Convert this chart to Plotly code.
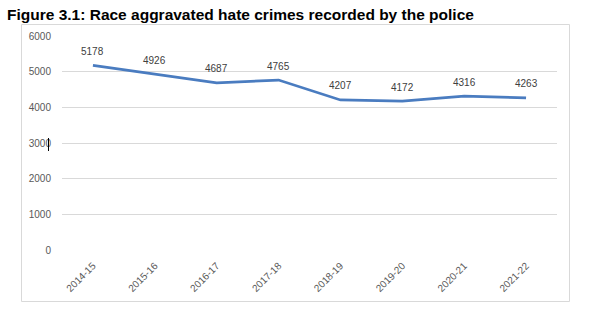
import plotly.graph_objects as go

years = ["2014-15", "2015-16", "2016-17", "2017-18", "2018-19", "2019-20", "2020-21", "2021-22"]
crimes = [5178, 4926, 4687, 4765, 4207, 4172, 4316, 4263]
y_ticks = [0, 1000, 2000, 3000, 4000, 5000, 6000]
title_text = "Figure 3.1: Race aggravated hate crimes recorded by the police"

W, H = 603, 326
L, R, T, B = 62, 46, 36, 76
pw, ph = W - L - R, H - T - B

def px(x):
    return (x - L) / pw

def py(y):
    return (H - B - y) / ph

fig = go.Figure()
fig.add_trace(go.Scatter(
    x=years, y=crimes, mode="lines",
    line=dict(color="#4A7CC0", width=2.75),
    hoverinfo="skip",
))

label_annotations = [
    dict(x=yr, y=v, xref="x", yref="y", text=str(v), showarrow=False,
         yshift=14, xanchor="center", yanchor="middle",
         font=dict(family="Liberation Sans, Arial", size=10, color="#404040"))
    for yr, v in zip(years, crimes)
]

fig.update_layout(
    width=W, height=H,
    margin=dict(l=L, r=R, t=T, b=B, pad=0),
    paper_bgcolor="white", plot_bgcolor="white",
    showlegend=False,
    font=dict(family="Liberation Sans, Arial", color="#595959", size=10),
    xaxis=dict(
        type="category", range=[-0.5, len(years) - 0.5], tickangle=-45,
        showgrid=False, zeroline=False, automargin=False,
        showline=False, ticks="", ticklabelstandoff=7,
        tickfont=dict(size=10, color="#595959"),
    ),
    yaxis=dict(
        range=[0, 6000], tickvals=y_ticks, showgrid=True, gridcolor="#d9d9d9",
        gridwidth=1, zeroline=False, showline=False, ticks="", automargin=False,
        ticklabelstandoff=10, tickfont=dict(size=10, color="#595959"),
    ),
    shapes=[
        dict(type="rect", xref="paper", yref="paper",
             x0=px(21.5), x1=px(569.5), y0=py(301.5), y1=py(24.5),
             line=dict(color="#d9d9d9", width=1), fillcolor="rgba(0,0,0,0)",
             layer="below"),
        dict(type="line", xref="paper", yref="paper",
             x0=px(48.5), x1=px(48.5), y0=py(151), y1=py(138),
             line=dict(color="black", width=1)),
    ],
    annotations=label_annotations + [
        dict(text="<b>" + title_text + "</b>", xref="paper", yref="paper",
             x=px(5), y=py(14), xanchor="left", yanchor="middle",
             showarrow=False,
             font=dict(family="Liberation Sans, Arial", size=15.5, color="black")),
    ],
)

fig.write_html("out.html")
